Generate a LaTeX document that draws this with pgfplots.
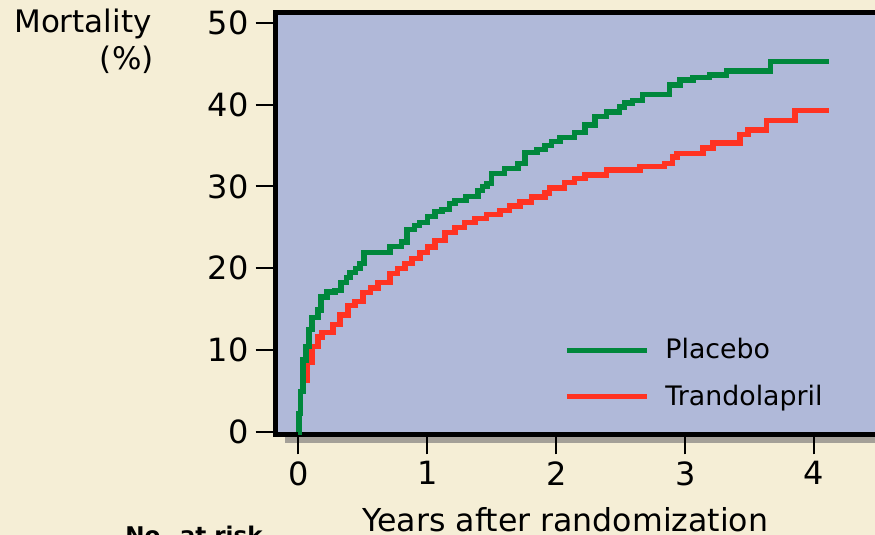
\documentclass[border=0pt]{standalone}
\usepackage{fontspec}
\setmainfont{DejaVu Sans}
\usepackage{pgfplots}
\pgfplotsset{compat=1.18}
\definecolor{bgbeige}{RGB}{245,238,214}
\definecolor{plotblue}{RGB}{176,185,217}
\definecolor{kmgreen}{RGB}{0,135,60}
\definecolor{kmred}{RGB}{255,51,34}
\definecolor{shadowgray}{RGB}{164,160,152}

\pgfplotstableread{
t v
0 0
0.004 2.3
0.017 4.9
0.035 8.8
0.058 10.4
0.081 12.5
0.105 14.0
0.151 14.9
0.175 16.5
0.221 17.1
0.283 17.3
0.33 18.3
0.37 18.9
0.40 19.5
0.44 20.0
0.477 20.6
0.508 21.9
0.71 22.7
0.80 23.2
0.842 24.7
0.90 25.2
0.939 25.6
1.0 26.3
1.059 26.9
1.113 27.2
1.17 27.9
1.214 28.3
1.30 28.8
1.392 29.5
1.43 30.0
1.462 30.4
1.50 31.6
1.60 32.2
1.703 32.8
1.757 34.1
1.85 34.5
1.912 35.0
1.96 35.5
2.028 36.0
2.144 36.6
2.222 37.5
2.30 38.5
2.39 39.1
2.49 39.7
2.53 40.2
2.59 40.5
2.67 41.2
2.88 42.4
2.96 43.0
3.06 43.3
3.19 43.6
3.32 44.1
3.66 45.3
4.116 45.3
}\placebo

\pgfplotstableread{
t v
0 0
0.004 2.3
0.017 4.9
0.035 6.3
0.066 8.5
0.105 10.4
0.151 11.6
0.182 12.2
0.267 13.1
0.322 14.3
0.384 15.5
0.438 15.9
0.50 17.0
0.56 17.6
0.617 18.3
0.71 19.4
0.77 20.0
0.826 20.6
0.88 21.2
0.942 21.9
1.0 22.6
1.059 23.4
1.136 24.4
1.214 25.0
1.29 25.6
1.369 26.1
1.46 26.6
1.563 27.1
1.64 27.6
1.718 28.1
1.81 28.7
1.912 29.2
1.95 29.8
2.066 30.5
2.144 31.0
2.222 31.4
2.392 32.0
2.649 32.4
2.84 32.8
2.90 33.6
2.936 34.0
3.138 34.7
3.216 35.3
3.425 36.3
3.487 36.9
3.63 38.1
3.852 39.3
4.116 39.3
}\trandolapril

\begin{document}
\begin{tikzpicture}
\useasboundingbox (0pt,0pt) rectangle (437.5pt,267.5pt);
\fill[bgbeige] (0pt,0pt) rectangle (437.5pt,267.5pt);
\fill[shadowgray] (142.5pt,46pt) rectangle (437.5pt,49.5pt);
\node[anchor=base east, inner sep=0pt, font=\fontsize{15.5}{18}\selectfont] at (76pt,251pt) {Mortality};
\node[anchor=base east, inner sep=0pt, font=\fontsize{15.5}{18}\selectfont] at (77pt,232.5pt) {(\%)};
\node[anchor=base west, inner sep=0pt, font=\bfseries\fontsize{11.5}{13}\selectfont] at (62.5pt,-4.4pt) {No. at risk};
\begin{axis}[
  at={(149.25pt,51.5pt)}, anchor=origin,
  x=64.45pt, y=4.093pt,
  xmin=-0.178, xmax=4.7, ymin=-0.3, ymax=51.25,
  axis background/.style={fill=plotblue},
  axis line style={line width=2.5pt, black},
  xtick={0,1,2,3,4}, ytick={0,10,20,30,40,50},
  tick align=outside, xtick pos=bottom, ytick pos=left,
  major tick length=10pt,
  tick style={black, line width=1pt},
  /pgf/number format/assume math mode=true,
  tick label style={font=\fontsize{16}{19}\selectfont},
  xlabel={Years after randomization},
  xlabel style={font=\fontsize{15.8}{19}\selectfont, at={(axis description cs:0.4608,0)}, anchor=base, yshift=-48.75pt},
  legend style={draw=none, fill=none, at={(axis description cs:0.4585,0.1445)}, anchor=west,
    font=\fontsize{13.4}{15.5}\selectfont, row sep=7.5pt, inner sep=0pt,
    nodes={inner xsep=4pt}},
  legend image code/.code={\draw[#1] (0pt,0pt) -- (40pt,0pt); \path (44pt,0pt);},
  legend cell align=left,
  reverse legend,
]
\addplot[kmred, line width=2.6pt, const plot] table[x=t,y=v] {\trandolapril};
\addlegendentry{Trandolapril}
\addplot[kmgreen, line width=2.6pt, const plot] table[x=t,y=v] {\placebo};
\addlegendentry{Placebo}
\end{axis}
\end{tikzpicture}
\end{document}
